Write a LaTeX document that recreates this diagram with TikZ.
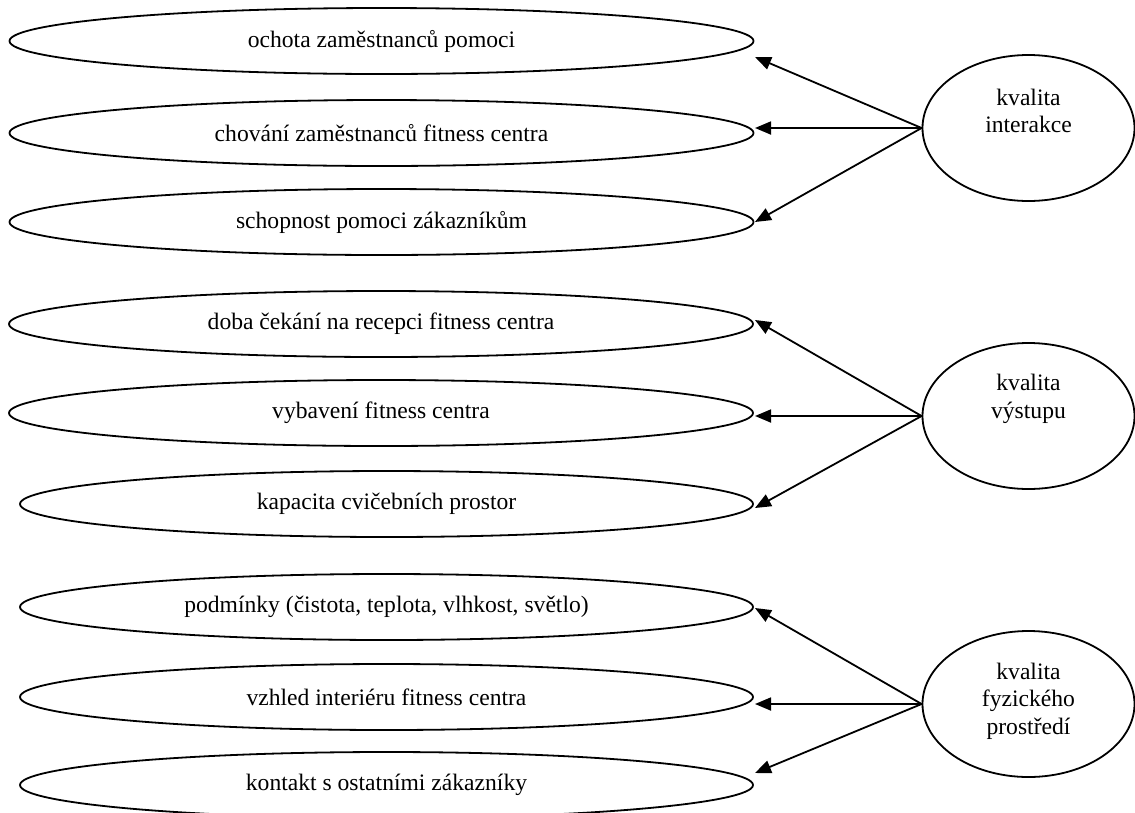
\documentclass[tikz,border=0pt]{standalone}
\usepackage{fontspec}
\setmainfont{Liberation Serif}
\usetikzlibrary{shapes.geometric,arrows.meta}
\begin{document}
\begin{tikzpicture}[x=1pt,y=-1pt,
  txt/.style={font=\fontsize{23.6}{27.5}\selectfont},
  item/.style={ellipse,draw,line width=1.8pt,inner sep=0pt,
    minimum width=744pt,minimum height=66pt,txt},
  group/.style={ellipse,draw,line width=1.8pt,inner sep=0pt,
    minimum width=212pt,minimum height=146pt},
  grouptext/.style={txt,align=center,inner sep=0pt},
  link/.style={line width=1.8pt,-{Triangle[length=16pt,width=13pt]}}]
\useasboundingbox (0,0) rectangle (1135,812);

% quality of interaction
\node[item] (e1) at (381.5,41) {ochota zaměstnanců pomoci};
\node[item] (e2) at (381.5,133) {chování zaměstnanců fitness centra};
\node[item] (e3) at (381.5,222) {schopnost pomoci zákazníkům};
\node[group] (g1) at (1028.5,128) {};
\node[grouptext] (g1t) at (1028.5,111) {kvalita\\interakce};
\coordinate (t1) at (755,57);
\coordinate (t2) at (755,128);
\coordinate (t3) at (755,222);
\draw[link] (g1.west) -- (t1);
\draw[link] (g1.west) -- (t2);
\draw[link] (g1.west) -- (t3);

% quality of output
\node[item] (e4) at (381,324) {doba čekání na recepci fitness centra};
\node[item] (e5) at (381,413) {vybavení fitness centra};
\node[item,minimum width=733pt] (e6) at (386.5,504) {kapacita cvičebních prostor};
\node[group] (g2) at (1028.5,416) {};
\node[grouptext] (g2t) at (1028.5,399) {kvalita\\výstupu};
\coordinate (t4) at (755,320);
\coordinate (t5) at (755,416);
\coordinate (t6) at (755,508);
\draw[link] (g2.west) -- (t4);
\draw[link] (g2.west) -- (t5);
\draw[link] (g2.west) -- (t6);

% quality of the physical environment
\node[item,minimum width=733pt] (e7) at (386.5,607) {podmínky (čistota, teplota, vlhkost, světlo)};
\node[item,minimum width=733pt] (e8) at (386.5,697) {vzhled interiéru fitness centra};
\node[item,minimum width=733pt] (e9) at (386.5,785) {kontakt s ostatními zákazníky};
\node[group] (g3) at (1028.5,704) {};
\node[grouptext] (g3t) at (1028.5,701) {kvalita\\fyzického\\prostředí};
\coordinate (t7) at (755,608);
\coordinate (t8) at (755,704);
\coordinate (t9) at (755,773);
\draw[link] (g3.west) -- (t7);
\draw[link] (g3.west) -- (t8);
\draw[link] (g3.west) -- (t9);
\end{tikzpicture}
\end{document}
